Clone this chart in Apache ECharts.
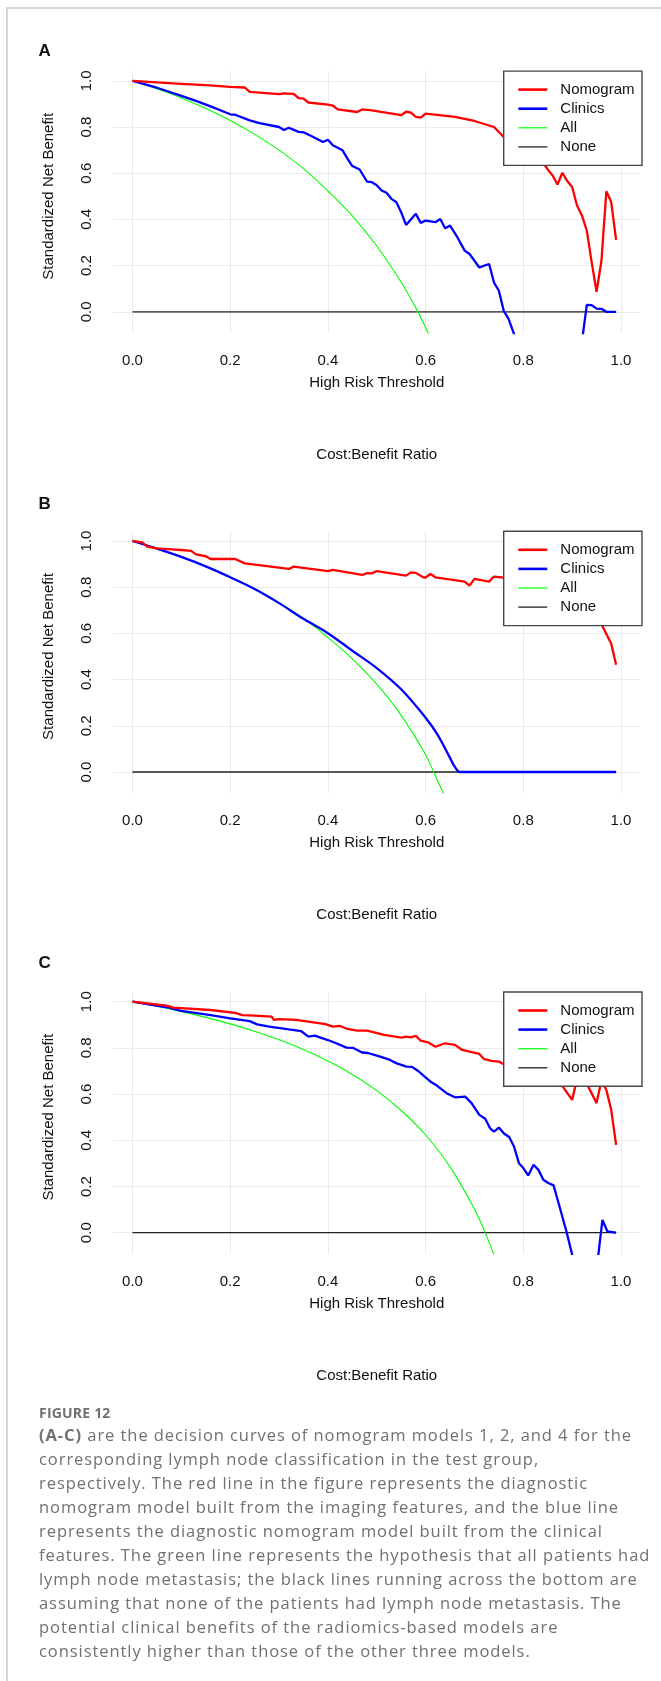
<!DOCTYPE html>
<html>
<head>
<meta charset="utf-8">
<script src="https://cdn.jsdelivr.net/npm/echarts@6/dist/echarts.min.js"></script>
<style>
html,body{margin:0;padding:0;background:#fff;}
#wrap{position:relative;width:661px;height:1681px;overflow:hidden;background:#fff;}
#frame{position:absolute;left:6px;top:7px;width:720px;height:1720px;border-left:2px solid #d6d6d6;border-top:2px solid #d6d6d6;}
#chart{position:absolute;left:0;top:0;width:661px;height:1681px;}
.cap{position:absolute;left:39px;font-family:'Open Sans','Noto Sans',sans-serif;line-height:24px;color:#707070;white-space:nowrap;}
#figlabel{top:1401px;font-size:14px;font-weight:700;letter-spacing:0.2px;}
#captext{top:1423px;font-size:16.5px;}
#captext span{display:inline-block;}
</style>
</head>
<body>
<div id="wrap">
  <div id="frame"></div>
  <div id="chart"></div>
  <div class="cap" id="figlabel">FIGURE 12</div>
  <div class="cap" id="captext"><span id="l1"><b>(A-C)</b> are the decision curves of nomogram models 1, 2, and 4 for the</span><br><span>corresponding lymph node classification in the test group,</span><br><span>respectively. The red line in the figure represents the diagnostic</span><br><span>nomogram model built from the imaging features, and the blue line</span><br><span>represents the diagnostic nomogram model built from the clinical</span><br><span>features. The green line represents the hypothesis that all patients had</span><br><span>lymph node metastasis; the black lines running across the bottom are</span><br><span>assuming that none of the patients had lymph node metastasis. The</span><br><span>potential clinical benefits of the radiomics-based models are</span><br><span>consistently higher than those of the other three models.</span></div>
</div>
<script>
// ---------------- data ----------------
const panelLetters = ['A', 'B', 'C'];
const seriesNames = ['Nomogram', 'Clinics', 'All', 'None'];
const xTicks = [0, 0.2, 0.4, 0.6, 0.8, 1.0];
const yTicks = [0, 0.2, 0.4, 0.6, 0.8, 1.0];
const xAxisTitle = 'High Risk Threshold';
const xAxisSubTitle = 'Cost:Benefit Ratio';
const yAxisTitle = 'Standardized Net Benefit';

const A_nomogram = [[0,1.000],[0.05,0.993],[0.10,0.987],[0.15,0.981],[0.20,0.974],[0.23,0.971],[0.24,0.952],[0.30,0.942],[0.31,0.946],[0.33,0.943],[0.34,0.925],[0.35,0.923],[0.36,0.906],[0.40,0.897],[0.41,0.893],[0.42,0.876],[0.46,0.865],[0.47,0.876],[0.49,0.872],[0.55,0.851],[0.56,0.866],[0.57,0.862],[0.58,0.844],[0.59,0.841],[0.60,0.858],[0.66,0.844],[0.70,0.826],[0.74,0.800],[0.76,0.757],[0.78,0.730],[0.80,0.700],[0.82,0.675],[0.84,0.648],[0.85,0.616],[0.86,0.590],[0.87,0.551],[0.88,0.602],[0.89,0.566],[0.90,0.540],[0.91,0.460],[0.92,0.417],[0.93,0.352],[0.94,0.214],[0.95,0.087],[0.96,0.221],[0.97,0.522],[0.98,0.475],[0.99,0.311]];
const A_clinics = [[0,1.000],[0.05,0.970],[0.10,0.935],[0.13,0.913],[0.16,0.889],[0.20,0.855],[0.21,0.853],[0.24,0.829],[0.26,0.817],[0.30,0.800],[0.31,0.787],[0.32,0.797],[0.34,0.779],[0.35,0.777],[0.37,0.757],[0.39,0.735],[0.40,0.745],[0.41,0.721],[0.43,0.699],[0.44,0.663],[0.45,0.631],[0.465,0.616],[0.48,0.564],[0.49,0.561],[0.50,0.548],[0.51,0.525],[0.52,0.515],[0.53,0.489],[0.54,0.475],[0.55,0.431],[0.56,0.376],[0.58,0.424],[0.59,0.385],[0.60,0.395],[0.62,0.388],[0.63,0.402],[0.64,0.362],[0.65,0.373],[0.665,0.323],[0.68,0.265],[0.69,0.250],[0.71,0.192],[0.73,0.207],[0.74,0.127],[0.75,0.091],[0.76,0.004],[0.77,-0.032],[0.78,-0.090],[0.79,-0.160],[0.82,-0.350],[0.86,-0.450],[0.90,-0.350],[0.915,-0.200],[0.92,-0.130],[0.93,0.030],[0.94,0.029],[0.95,0.014],[0.96,0.013],[0.97,0.000],[0.99,0.000]];
const A_all = [[0,1.000],[0.05,0.965],[0.10,0.926],[0.15,0.880],[0.20,0.828],[0.25,0.768],[0.30,0.700],[0.35,0.620],[0.40,0.523],[0.45,0.415],[0.50,0.285],[0.55,0.128],[0.58,0.017],[0.60,-0.068],[0.62,-0.160]];

const B_nomogram = [[0,1.000],[0.02,0.994],[0.03,0.976],[0.05,0.968],[0.08,0.964],[0.10,0.961],[0.12,0.957],[0.13,0.942],[0.15,0.934],[0.16,0.922],[0.18,0.922],[0.21,0.922],[0.23,0.903],[0.32,0.879],[0.33,0.889],[0.40,0.870],[0.41,0.875],[0.47,0.853],[0.48,0.861],[0.49,0.860],[0.50,0.870],[0.56,0.850],[0.57,0.864],[0.58,0.862],[0.595,0.843],[0.60,0.842],[0.61,0.857],[0.62,0.843],[0.68,0.824],[0.69,0.807],[0.70,0.836],[0.73,0.824],[0.74,0.846],[0.76,0.841],[0.80,0.830],[0.85,0.800],[0.90,0.760],[0.94,0.690],[0.96,0.640],[0.98,0.555],[0.99,0.464]];
const B_clinics = [[0,1.000],[0.05,0.967],[0.10,0.931],[0.15,0.890],[0.20,0.843],[0.25,0.792],[0.30,0.731],[0.35,0.663],[0.40,0.601],[0.45,0.525],[0.50,0.450],[0.55,0.358],[0.60,0.235],[0.625,0.160],[0.65,0.061],[0.66,0.022],[0.67,0.000],[0.70,0.000],[0.80,0.000],[0.90,0.000],[0.99,0.000]];
const B_all = [[0,1.000],[0.05,0.967],[0.10,0.931],[0.15,0.890],[0.20,0.844],[0.25,0.792],[0.30,0.733],[0.35,0.665],[0.40,0.582],[0.45,0.490],[0.50,0.380],[0.55,0.245],[0.60,0.075],[0.62,-0.017],[0.64,-0.108]];

const C_nomogram = [[0,1.000],[0.07,0.983],[0.083,0.974],[0.16,0.964],[0.21,0.952],[0.225,0.942],[0.25,0.940],[0.285,0.935],[0.29,0.921],[0.30,0.925],[0.335,0.921],[0.36,0.914],[0.395,0.903],[0.41,0.892],[0.425,0.895],[0.44,0.882],[0.46,0.875],[0.48,0.875],[0.505,0.862],[0.515,0.856],[0.55,0.844],[0.56,0.849],[0.57,0.846],[0.58,0.852],[0.59,0.831],[0.605,0.824],[0.62,0.805],[0.64,0.820],[0.66,0.813],[0.675,0.791],[0.69,0.784],[0.71,0.774],[0.72,0.751],[0.735,0.744],[0.75,0.741],[0.76,0.729],[0.78,0.710],[0.80,0.690],[0.82,0.668],[0.83,0.640],[0.84,0.675],[0.86,0.670],[0.875,0.650],[0.90,0.575],[0.91,0.665],[0.93,0.645],[0.95,0.561],[0.96,0.660],[0.97,0.618],[0.98,0.532],[0.99,0.380]];
const C_clinics = [[0,1.000],[0.07,0.976],[0.10,0.960],[0.16,0.942],[0.20,0.928],[0.24,0.916],[0.255,0.902],[0.28,0.892],[0.32,0.880],[0.345,0.873],[0.36,0.849],[0.373,0.853],[0.40,0.834],[0.417,0.820],[0.438,0.801],[0.452,0.800],[0.47,0.780],[0.482,0.778],[0.507,0.762],[0.527,0.748],[0.541,0.733],[0.561,0.719],[0.572,0.718],[0.585,0.700],[0.598,0.676],[0.612,0.651],[0.623,0.637],[0.643,0.604],[0.66,0.586],[0.681,0.589],[0.694,0.561],[0.71,0.510],[0.722,0.493],[0.732,0.452],[0.74,0.438],[0.75,0.455],[0.761,0.428],[0.771,0.414],[0.781,0.373],[0.791,0.301],[0.80,0.280],[0.81,0.248],[0.821,0.294],[0.831,0.272],[0.841,0.229],[0.851,0.215],[0.862,0.205],[0.877,0.092],[0.889,0.000],[0.90,-0.095],[0.91,-0.200],[0.93,-0.300],[0.95,-0.160],[0.962,0.055],[0.972,0.006],[0.99,0.000]];
const C_all = [[0,1.000],[0.05,0.980],[0.10,0.957],[0.15,0.932],[0.20,0.904],[0.25,0.872],[0.30,0.835],[0.35,0.793],[0.40,0.743],[0.45,0.685],[0.50,0.615],[0.55,0.529],[0.60,0.423],[0.65,0.285],[0.70,0.102],[0.72,0.010],[0.74,-0.096],[0.75,-0.155]];

const noneLine = [[0,0],[0.99,0]];

// ---------------- layout / style ----------------
const FONT = '"Liberation Sans", Arial, Helvetica, sans-serif';
const X0 = 132.5, W = 488.5, H = 231;
const plotTops = [80.8, 541.0, 1001.7];
const letterTops = [42.7, 495.5, 955.3];
const colors = {Nomogram: '#ff0000', Clinics: '#0000ff', All: '#00ff00', None: '#222222'};
const widths = {Nomogram: 2.3, Clinics: 2.3, All: 1.1, None: 1.3};
const legendWidths = {Nomogram: 2.6, Clinics: 2.6, All: 1.2, None: 1.3};
const smoothOn = {A: {All: 0.4}, B: {All: 0.4, Clinics: 0.35}, C: {All: 0.4}};
const panelData = [
  {Nomogram: A_nomogram, Clinics: A_clinics, All: A_all, None: noneLine},
  {Nomogram: B_nomogram, Clinics: B_clinics, All: B_all, None: noneLine},
  {Nomogram: C_nomogram, Clinics: C_clinics, All: C_all, None: noneLine}
];

const grid = [], xAxis = [], yAxis = [], series = [], legend = [], graphic = [];
const fmt = v => v.toFixed(1);

panelLetters.forEach((letter, i) => {
  const T = plotTops[i];
  const fi = 2 * i, ai = 2 * i + 1;
  grid.push({left: X0 - 0.04 * W, width: 1.08 * W, top: T - 0.042 * H, height: 1.134 * H, containLabel: false});
  grid.push({left: X0, width: W, top: T, height: H, containLabel: false});

  xAxis.push({
    gridIndex: fi, type: 'value', min: -0.04, max: 1.04,
    axisLine: {show: false}, axisTick: {show: false}, axisLabel: {show: false}, splitLine: {show: false},
    name: xAxisSubTitle, nameLocation: 'middle', nameGap: 114.5,
    nameTextStyle: {fontFamily: FONT, fontSize: 15, color: '#111'}
  });
  yAxis.push({gridIndex: fi, type: 'value', min: -0.092, max: 1.042, show: false});

  xAxis.push({
    gridIndex: ai, type: 'value', min: 0, max: 1, interval: 0.2, offset: 21.5,
    axisLine: {show: true, lineStyle: {color: '#444', width: 1}},
    axisTick: {show: true, length: 8, lineStyle: {color: '#444', width: 1}},
    axisLabel: {formatter: fmt, fontFamily: FONT, fontSize: 15, color: '#111', margin: 20},
    splitLine: {show: false},
    name: xAxisTitle, nameLocation: 'middle', nameGap: 42,
    nameTextStyle: {fontFamily: FONT, fontSize: 15, color: '#111'}
  });
  yAxis.push({
    gridIndex: ai, type: 'value', min: 0, max: 1, interval: 0.2, offset: 20,
    axisLine: {show: true, lineStyle: {color: '#444', width: 1}},
    axisTick: {show: true, length: 8, lineStyle: {color: '#444', width: 1}},
    axisLabel: {formatter: fmt, fontFamily: FONT, fontSize: 15, color: '#111', margin: 18.5, rotate: 90},
    splitLine: {show: false},
    name: yAxisTitle, nameLocation: 'middle', nameGap: 56.5, nameRotate: 90,
    nameTextStyle: {fontFamily: FONT, fontSize: 15, color: '#111'}
  });

  // light grid lines across the whole plot region, at the tick values (kept under the curves)
  series.push({
    type: 'line', xAxisIndex: fi, yAxisIndex: fi, data: [], silent: true, z: 1,
    markLine: {
      z: 1, silent: true, symbol: ['none', 'none'], label: {show: false}, animation: false,
      lineStyle: {color: '#ebebeb', width: 1, type: 'solid'},
      emphasis: {disabled: true},
      data: xTicks.map(v => ({xAxis: v})).concat(yTicks.map(v => ({yAxis: v})))
    }
  });

  const order = ['None', 'All', 'Clinics', 'Nomogram'];
  order.forEach((name, k) => {
    const sm = smoothOn[letter][name];
    series.push({
      name: name, type: 'line', xAxisIndex: fi, yAxisIndex: fi,
      data: panelData[i][name], symbol: 'none', showSymbol: false,
      smooth: sm ? sm : false,
      clip: true, z: 2 + k, silent: true,
      lineStyle: {color: colors[name], width: widths[name]},
      itemStyle: {color: colors[name]},
      emphasis: {disabled: true}
    });
  });

  legend.push({
    data: seriesNames.map(n => ({name: n, lineStyle: {width: legendWidths[n], color: colors[n]}})),
    orient: 'vertical', left: 503.7, top: T - 0.042 * H,
    padding: [11, 7.5, 11, 13.3], itemWidth: 29, itemHeight: 14, itemGap: 4.1,
    backgroundColor: '#ffffff', borderColor: '#474747', borderWidth: 1.4, borderRadius: 0,
    selectedMode: false, z: 20,
    itemStyle: {opacity: 0},
    formatter: n => '{t|' + n + '}',
    textStyle: {fontFamily: FONT, fontSize: 15, color: '#111',
      rich: {t: {fontFamily: FONT, fontSize: 15, color: '#111', padding: [0, 0, 0, 8]}}}
  });

  graphic.push({
    type: 'text', left: 38.6, top: letterTops[i], z: 30,
    style: {text: letter, font: 'bold 17px ' + FONT, fill: '#111'}
  });
});

const chart = echarts.init(document.getElementById('chart'), null, {renderer: 'canvas'});
chart.setOption({
  animation: false,
  textStyle: {fontFamily: FONT},
  grid: grid, xAxis: xAxis, yAxis: yAxis, series: series, legend: legend, graphic: graphic
});

// caption tracking: fit the first line to its width in the reference
(function fitCaption() {
  const box = document.getElementById('captext');
  const l1 = document.getElementById('l1');
  const target = 593;
  const w = l1.getBoundingClientRect().width;
  const n = l1.textContent.length;
  const ls = (target - w) / n;
  box.style.letterSpacing = ls.toFixed(3) + 'px';
})();
</script>
</body>
</html>
